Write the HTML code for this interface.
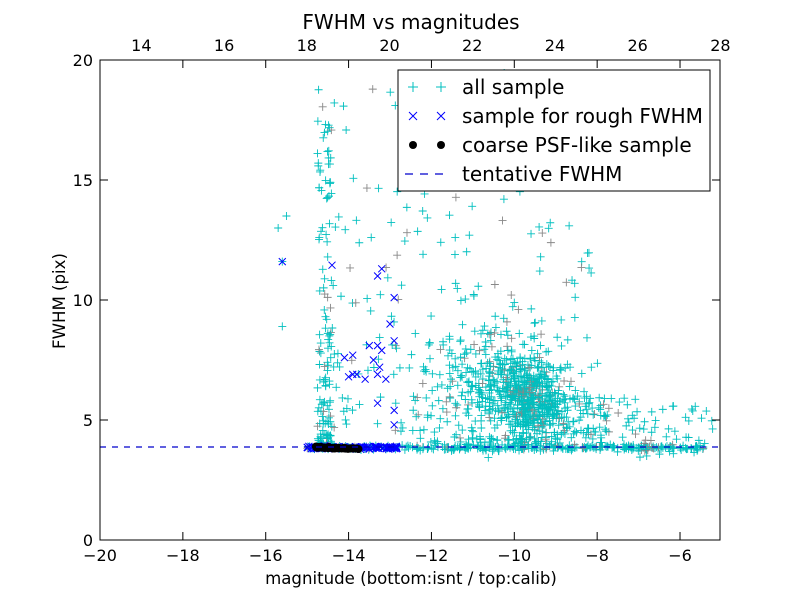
<!DOCTYPE html>
<html><head><meta charset="utf-8"><style>
body{margin:0;background:#fff;}
svg text{font-family:"DejaVu Sans","Liberation Sans",sans-serif;}
</style></head><body>
<svg id="s" width="800" height="600" xmlns="http://www.w3.org/2000/svg">
<rect width="800" height="600" fill="#fff"/>
<g id="pts"></g>
<line x1="100" y1="447" x2="720" y2="447" stroke="#0000cc" stroke-width="1.2" stroke-dasharray="6,6"/>
<rect x="100" y="60" width="620" height="480" fill="none" stroke="#000" stroke-width="1"/>
<g id="ticks" stroke="#000" stroke-width="1"></g>
<g id="lbl" font-size="16" fill="#000"></g>
<text x="411" y="29" font-size="20" text-anchor="middle">FWHM vs magnitudes</text>
<text x="411" y="584" font-size="16.6" text-anchor="middle">magnitude (bottom:isnt / top:calib)</text>
<text transform="translate(65,301) rotate(-90)" font-size="16.6" text-anchor="middle">FWHM (pix)</text>
<g>
<rect x="398" y="70" width="312" height="121" fill="#fff" stroke="#000"/>
<g stroke="#00bfbf" stroke-width="1"><path d="M408 87h10M413 82v10M436 87h10M441 82v10"/></g>
<g stroke="#0000ff" stroke-width="1"><path d="M409 112l8 8M417 112l-8 8M437 112l8 8M445 112l-8 8"/></g>
<circle cx="413" cy="145" r="4" fill="#000"/><circle cx="441" cy="145" r="4" fill="#000"/>
<path d="M405 174h8M420 174h8M435 174h8" stroke="#0000cc" stroke-width="1.2"/>
<g font-size="20"><text x="462" y="94">all sample</text><text x="462" y="123">sample for rough FWHM</text><text x="462" y="152">coarse PSF-like sample</text><text x="462" y="181">tentative FWHM</text></g>
</g>
</svg>
<script>
function X(m){return 100+(m+20)*41.43;}
function Y(f){return 540-f*24;}
var seed=7;function r(){seed=(seed*16807)%2147483647;return seed/2147483647;}
function g(){return (r()+r()+r()+r()-2)/1.15;}
var out="";
function plus(x,y,c){var px=X(x),py=Y(y);if(px<100||px>720||py<60||py>540)return;out+='<path d="M'+(px-4)+' '+py+'h8M'+px+' '+(py-4)+'v8" stroke="'+c+'" stroke-width="0.9"/>';}
function cross(x,y){var px=X(x),py=Y(y);out+='<path d="M'+(px-3.5)+' '+(py-3.5)+'l7 7M'+(px+3.5)+' '+(py-3.5)+'l-7 7" stroke="#0000ff" stroke-width="1"/>';}
function col(){return r()<0.12?"#888":"#00bfbf";}
var i;
for(i=0;i<130;i++){var y=4+Math.pow(r(),2.6)*15;plus(-14.75+r()*0.35,y,col());}
for(i=0;i<260;i++){plus(-15+r()*9.6,3.85+g()*0.1,col());}
for(i=0;i<120;i++){plus(-10+g()*2.2,3.7+r()*0.6,col());}
for(i=0;i<650;i++){var x=-9.7+g()*0.9,y=6+g()*1.6;if(r()<0.45){x=-10.4+g()*1.7;y=6.8+g()*2.5;}plus(x,y,col());}
for(i=0;i<150;i++){plus(-9+g()*1.6,4.4+r()*1.6,col());}
for(i=0;i<230;i++){plus(-14.6+r()*6.5,4.5+Math.pow(r(),1.6)*15,col());}
for(i=0;i<60;i++){plus(-8+r()*2.8,3.4+r()*2.3,col());}
[[-15.5,13.5],[-15.7,13],[-15.6,8.9],[-15.6,11.6]].forEach(function(p){plus(p[0],p[1],"#00bfbf");});
for(i=0;i<110;i++){cross(-15+r()*2.2,3.85+g()*0.06);}
[[-15.6,11.6],[-14.4,11.45],[-13.3,11],[-13.2,11.3],[-12.9,10.1],[-12.9,8.3],[-13,9],[-13.9,7.7],[-13.5,8.1],[-13.4,7.5],[-13.3,8.1],[-13.3,6.9],[-13.8,6.9],[-14,6.8],[-13.6,6.7],[-13.1,6.7],[-13.3,5.7],[-12.9,5.4],[-14.1,7.6],[-13.2,7.9],[-13.9,6.9],[-12.9,4.8],[-13.25,7.2]].forEach(function(p){cross(p[0],p[1]);});
for(i=0;i<45;i++){var x=-14.8+r()*1.1;out+='<circle cx="'+X(x)+'" cy="'+Y(3.86-(x+14.8)*0.06+g()*0.03)+'" r="4" fill="#000"/>';}
document.getElementById("pts").innerHTML=out;
var t="",l="";
for(var m=-20;m<=-6;m+=2){var px=X(m);t+='<path d="M'+px+' 540v-8M'+px+' 60v8"/>';l+='<text x="'+px+'" y="561" text-anchor="middle">'+(m<0?'\u2212'+(-m):m)+'</text>';}
for(var m=14;m<=28;m+=2){var px=100+(m-13)*41.36;l+='<text x="'+px+'" y="51" text-anchor="middle">'+m+'</text>';}
for(var f=0;f<=20;f+=5){var py=Y(f);t+='<path d="M100 '+py+'h8M720 '+py+'h-8"/>';l+='<text x="93" y="'+(py+6)+'" text-anchor="end">'+f+'</text>';}
document.getElementById("ticks").innerHTML=t;document.getElementById("lbl").innerHTML=l;
</script>
</body></html>
